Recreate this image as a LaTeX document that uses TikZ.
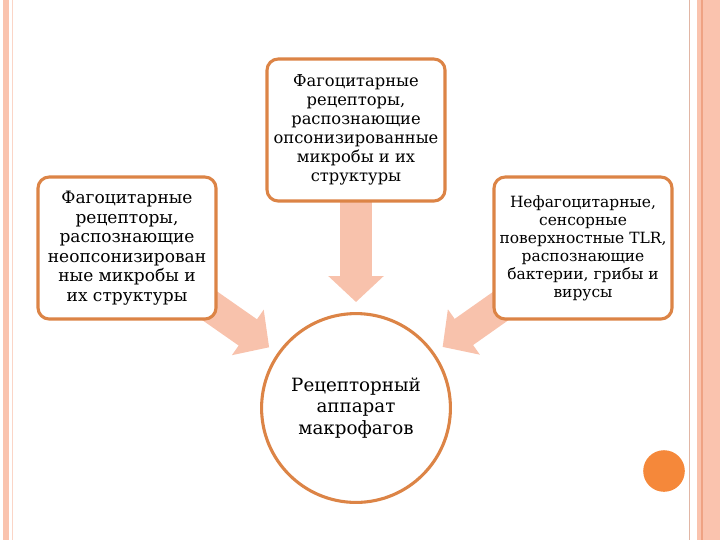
\documentclass[tikz,border=0pt]{standalone}
\usepackage{fontspec}
\setmainfont{DejaVu Serif}
\usetikzlibrary{positioning, arrows.meta, backgrounds}
\definecolor{cEdge}{HTML}{DC8446}
\definecolor{cArrow}{HTML}{F8C2AC}
\definecolor{cFrame}{HTML}{FAC3AE}
\definecolor{cFrameLine}{HTML}{EFA283}
\definecolor{cDot}{HTML}{F5883A}

\begin{document}
\begin{tikzpicture}[
  x=0.025cm, y=-0.025cm,
  recbox/.style={
    draw=cEdge, line width=2.2pt, fill=white, rounded corners=8pt,
    minimum width=4.45cm, minimum height=3.55cm,
    inner sep=2pt, align=center
  },
  rectext/.style 2 args={
    font=\fontsize{#1}{#2}\selectfont
  },
  bigarrow/.style={
    cArrow, line width=0.8cm, shorten >=0.25cm,
    -{Triangle[length=0.65cm, width=1.35cm]}
  },
]
\useasboundingbox (0,0) rectangle (720,540);

% FRAME
\fill[cFrame] (3,0) rectangle (9,540);
\draw[cFrame!70, line width=0.4pt] (12,0) -- (12,540);
\draw[cFrame!80!gray, line width=0.6pt] (689,0) -- (689,540);
\fill[cFrame] (697,0) rectangle (720,540);
\draw[cFrameLine, line width=0.8pt] (702,0) -- (702,540);

% CENTRE
\node[circle, draw=cEdge, line width=2.2pt, fill=white,
      minimum size=4.72cm, inner sep=0pt, align=center,
      rectext={13}{15.4}] (circ) at (356,408)
  {Рецепторный\\аппарат\\макрофагов};

% TOP
\node[recbox, rectext={11.6}{13.5}] (topbox) at (356,130)
  {Фагоцитарные\\рецепторы,\\распознающие\\опсонизированные\\микробы и их\\структуры};

% LEFT
\node[recbox, rectext={12.1}{13.9}] (leftbox) at (127,248)
  {Фагоцитарные\\рецепторы,\\распознающие\\неопсонизирован\\ные микробы и\\их структуры};

% RIGHT
\node[recbox, rectext={11}{12.8}] (rightbox) at (583,248)
  {Нефагоцитарные,\\сенсорные\\поверхностные TLR,\\распознающие\\бактерии, грибы и\\вирусы};

% ARROWS
\begin{scope}[on background layer]
  \draw[bigarrow] (topbox.center) -- (circ);
  \draw[bigarrow] (leftbox.center) -- (circ);
  \draw[bigarrow] (rightbox.center) -- (circ);
\end{scope}

% DOT
\fill[cDot] (664,471) circle (0.52cm);

\end{tikzpicture}
\end{document}
